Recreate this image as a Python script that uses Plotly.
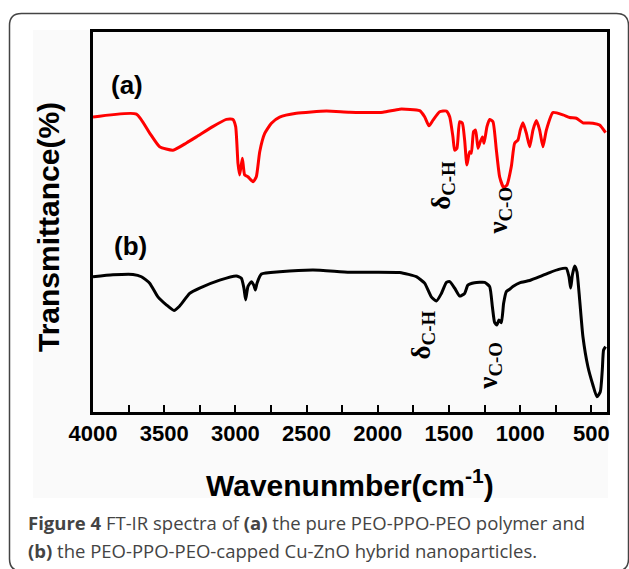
import plotly.graph_objects as go

# FT-IR spectrum (a): pure PEO-PPO-PEO polymer
wn_a = [4000, 3695, 3602, 3532, 3438, 3344, 3274, 3159, 3063, 3017,
        2998, 2982, 2970, 2951, 2935, 2912, 2876, 2853, 2829, 2794,
        2747, 2689, 2572, 2361, 2197, 1963, 1846, 1706, 1671, 1640,
        1612, 1565, 1518, 1495, 1472, 1460, 1444, 1425, 1406, 1390,
        1374, 1355, 1343, 1327, 1313, 1296, 1280, 1265, 1254, 1233,
        1214, 1191, 1167, 1144, 1116, 1093, 1062, 1039, 1015, 999,
        980, 956, 933, 910, 886, 863, 840, 816, 770, 699,
        652, 605, 559, 489, 442, 400]
t_a = [77.6, 78.4, 73.4, 69.8, 68.9, 70.8, 72.4, 75.1, 77.0, 77.0,
       75.1, 65.5, 62.4, 66.8, 62.4, 61.9, 60.6, 61.9, 68.5, 73.3,
       76.0, 77.6, 78.6, 79.2, 78.9, 78.9, 79.7, 79.3, 77.7, 75.3,
       76.8, 79.0, 79.2, 77.7, 72.4, 68.9, 69.4, 76.4, 76.0, 71.6,
       65.0, 68.5, 68.1, 73.8, 74.2, 69.4, 71.1, 72.4, 70.7, 75.1,
       77.0, 76.4, 68.9, 61.9, 59.1, 59.7, 64.6, 70.7, 71.6, 74.2,
       76.1, 73.3, 69.8, 74.2, 76.7, 74.2, 69.8, 74.2, 78.8, 78.2,
       77.5, 77.3, 76.1, 76.0, 75.5, 73.5]

# FT-IR spectrum (b): PEO-PPO-PEO-capped Cu-ZnO nanoparticles
wn_b = [4000, 3860, 3719, 3660, 3602, 3544, 3485, 3431, 3391, 3321,
        3251, 3110, 2993, 2958, 2940, 2928, 2912, 2888, 2871, 2860,
        2848, 2817, 2689, 2455, 2197, 1846, 1729, 1671, 1624, 1588,
        1553, 1518, 1495, 1460, 1425, 1390, 1367, 1320, 1249, 1214,
        1195, 1179, 1163, 1149, 1132, 1116, 1097, 1074, 1051, 1004,
        933, 863, 793, 723, 676, 657, 645, 633, 617, 601,
        582, 559, 524, 489, 461, 437, 423, 414, 400]
t_b = [35.6, 36.1, 36.2, 35.6, 33.9, 30.3, 28.2, 26.7, 27.9, 31.2,
       32.6, 34.7, 35.8, 35.2, 32.6, 29.5, 33.0, 34.3, 33.4, 32.1,
       33.9, 36.3, 36.9, 37.4, 36.8, 36.7, 35.6, 33.9, 30.3, 29.2,
       31.2, 34.1, 34.3, 32.6, 30.5, 31.2, 33.4, 34.0, 34.1, 33.0,
       27.7, 23.5, 22.9, 24.2, 23.5, 28.6, 31.7, 32.3, 33.0, 34.0,
       34.6, 35.6, 36.7, 37.6, 37.8, 35.6, 32.6, 36.1, 38.4, 36.9,
       29.5, 19.8, 11.9, 7.1, 4.0, 5.3, 11.1, 16.3, 17.2]

tick_vals = [4000, 3500, 3000, 2500, 2000, 1500, 1000, 500]
tick_text = ["4000", "3500", "3000", "2500", "2000", "1500", "1000", "500"]

# figure geometry in pixels
W, H = 629, 569
L, R, T, B = 93, 607, 32, 412


def px_x(px):
    return (px - L) / (R - L)


def px_y(py):
    return (B - py) / (B - T)


fig = go.Figure()
fig.add_trace(go.Scatter(x=wn_a, y=t_a, mode="lines",
                         line=dict(color="#ff0000", width=3, shape="spline", smoothing=0.5),
                         showlegend=False))
fig.add_trace(go.Scatter(x=wn_b, y=t_b, mode="lines",
                         line=dict(color="#000000", width=3, shape="spline", smoothing=0.5),
                         showlegend=False))

bold_sans = dict(family="Arial, Liberation Sans", color="black", weight="bold")
serif = dict(family="Times New Roman, Liberation Serif", color="black", size=27, weight="bold")
caption_font = dict(family="Open Sans", size=18.5, color="#444444")

annotations = [
    dict(x=3763, y=86.1, xref="x", yref="y", text="(a)", showarrow=False,
         font=dict(size=26, **bold_sans)),
    dict(x=3735, y=43.7, xref="x", yref="y", text="(b)", showarrow=False,
         font=dict(size=26, **bold_sans)),
    dict(x=1544, y=59.7, xref="x", yref="y", text="δ<sub>C-H</sub>", textangle=-90,
         showarrow=False, font=serif),
    dict(x=1144, y=52.9, xref="x", yref="y", text="ν<sub>C-O</sub>", textangle=-90,
         showarrow=False, font=serif),
    dict(x=1685, y=20.3, xref="x", yref="y", text="δ<sub>C-H</sub>", textangle=-90,
         showarrow=False, font=serif),
    dict(x=1214, y=12.1, xref="x", yref="y", text="ν<sub>C-O</sub>", textangle=-90,
         showarrow=False, font=serif),
    # axis titles
    dict(x=px_x(350), y=px_y(483), xref="paper", yref="paper",
         xanchor="center", yanchor="middle",
         text="Wavenunmber(cm<sup>-1</sup>)", showarrow=False,
         font=dict(size=30, **bold_sans)),
    dict(x=px_x(49), y=px_y(227), xref="paper", yref="paper",
         xanchor="center", yanchor="middle",
         text="Transmittance(%)", textangle=-90, showarrow=False,
         font=dict(size=30, **bold_sans)),
    # caption
    dict(x=px_x(26), y=px_y(522), xref="paper", yref="paper",
         xanchor="left", yanchor="middle",
         text="<b>Figure 4</b> FT-IR spectra of <b>(a)</b> the pure PEO-PPO-PEO polymer and",
         showarrow=False, font=caption_font),
    dict(x=px_x(26), y=px_y(550), xref="paper", yref="paper",
         xanchor="left", yanchor="middle",
         text="<b>(b)</b> the PEO-PPO-PEO-capped Cu-ZnO hybrid nanoparticles.",
         showarrow=False, font=caption_font),
]

# rounded outer frame + faint image panel
fl, ft, fr, fb, rad = 9.5, 13.5, 628.5, 571, 12
frame_path = (
    f"M {px_x(fl + rad)},{px_y(ft)} L {px_x(fr - rad)},{px_y(ft)} "
    f"Q {px_x(fr)},{px_y(ft)} {px_x(fr)},{px_y(ft + rad)} "
    f"L {px_x(fr)},{px_y(fb - rad)} Q {px_x(fr)},{px_y(fb)} {px_x(fr - rad)},{px_y(fb)} "
    f"L {px_x(fl + rad)},{px_y(fb)} Q {px_x(fl)},{px_y(fb)} {px_x(fl)},{px_y(fb - rad)} "
    f"L {px_x(fl)},{px_y(ft + rad)} Q {px_x(fl)},{px_y(ft)} {px_x(fl + rad)},{px_y(ft)} Z"
)
shapes = [
    dict(type="rect", xref="paper", yref="paper", layer="below",
         x0=px_x(33), x1=px_x(608), y0=px_y(498), y1=px_y(30),
         fillcolor="#fafafa", line=dict(width=0)),
    dict(type="path", xref="paper", yref="paper", path=frame_path,
         line=dict(color="#444444", width=1.5)),
]

fig.update_layout(
    width=W, height=H,
    margin=dict(l=L, r=W - R, t=T, b=H - B),
    paper_bgcolor="white",
    plot_bgcolor="rgba(0,0,0,0)",
    annotations=annotations,
    shapes=shapes,
)
fig.update_xaxes(
    range=[4000, 390], tickvals=tick_vals, ticktext=tick_text,
    ticks="inside", ticklen=7, tickwidth=2, tickcolor="black",
    minor=dict(dtick=250, tick0=0, ticks="inside", ticklen=7, tickwidth=2, tickcolor="black"),
    tickfont=dict(size=22, **bold_sans),
    showline=True, linewidth=3, linecolor="black", mirror=True,
    showgrid=False, zeroline=False,
)
fig.update_yaxes(
    range=[0, 100], showticklabels=False, ticks="",
    showline=True, linewidth=3, linecolor="black", mirror=True,
    showgrid=False, zeroline=False,
)

# drop the default page margin so the figure sits at the window's top-left corner
fig.write_html("out.html", config={"displayModeBar": False},
               post_script="document.body.style.margin='0';")
